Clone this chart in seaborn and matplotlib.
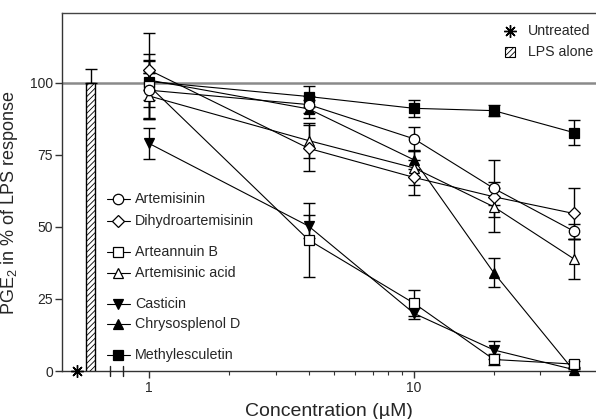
import numpy as np
import pandas as pd
import seaborn as sns
import matplotlib.pyplot as plt
from matplotlib.patches import Rectangle
from matplotlib.lines import Line2D
from matplotlib.ticker import FixedLocator, NullFormatter, FixedFormatter

# Concentrations (uM)
conc = [1, 4, 10, 20, 40]

compounds = ['Artemisinin', 'Dihydroartemisinin', 'Arteannuin B', 'Artemisinic acid',
             'Casticin', 'Chrysosplenol D', 'Methylesculetin']

# mean PGE2 (% of LPS response)
artemisinin = [97.5, 92.5, 80.6, 63.4, 48.6]
dihydroartemisinin = [104.5, 77.3, 67.2, 60.5, 54.7]
arteannuin_b = [99.0, 45.5, 23.5, 4.0, 2.4]
artemisinic_acid = [95.5, 80.0, 70.5, 57.0, 39.0]
casticin = [79.0, 50.3, 20.0, 7.3, 0.5]
chrysosplenol_d = [101.0, 91.0, 73.3, 34.1, 0.2]
methylesculetin = [100.5, 95.3, 91.2, 90.4, 82.8]

# error (SD)
artemisinin_sd = [10, 3, 4, 10, 2.6]
dihydroartemisinin_sd = [13, 8, 6, 3, 8.7]
arteannuin_b_sd = [11, 13, 4.5, 2, 1]
artemisinic_acid_sd = [8, 6, 6, 8.6, 7]
casticin_sd = [5.5, 4, 1.8, 3, 0.5]
chrysosplenol_d_sd = [7, 3, 3, 5, 0.5]
methylesculetin_sd = [3, 3.5, 3, 2, 4.3]

means = [artemisinin, dihydroartemisinin, arteannuin_b, artemisinic_acid,
         casticin, chrysosplenol_d, methylesculetin]
sds = [artemisinin_sd, dihydroartemisinin_sd, arteannuin_b_sd, artemisinic_acid_sd,
       casticin_sd, chrysosplenol_d_sd, methylesculetin_sd]

# controls
lps_alone = 100
lps_alone_sd = 5
untreated = 0

rows = []
for name, m, s in zip(compounds, means, sds):
    for c, v, e in zip(conc, m, s):
        rows.append({'compound': name, 'conc': c, 'pge2': v, 'sd': e})
df = pd.DataFrame(rows)

styles = {
    'Artemisinin': ('o', 'white', 7.5),
    'Dihydroartemisinin': ('D', 'white', 6.0),
    'Arteannuin B': ('s', 'white', 7.5),
    'Artemisinic acid': ('^', 'white', 7.5),
    'Casticin': ('v', 'black', 7.5),
    'Chrysosplenol D': ('^', 'black', 7.5),
    'Methylesculetin': ('s', 'black', 7.5),
}

sns.set_style('ticks')
plt.rcParams['font.family'] = ['Liberation Sans', 'DejaVu Sans']
plt.rcParams['mathtext.default'] = 'regular'
plt.rcParams['hatch.linewidth'] = 0.6

fig = plt.figure(figsize=(5.96, 4.19), dpi=100)
ax = fig.add_axes([62 / 596, 48 / 419, 534 / 596, 358 / 419])

ax.set_xscale('log')
ax.set_xlim(0.469, 48.6)
ax.set_ylim(0, 124.3)

# reference line at 100 %
ax.axhline(100, color='#8a8a8a', lw=1.8, zorder=1)

# controls: untreated (asterisk) and LPS alone (hatched bar)
ast = (8, 2, 0)
ax.plot([0.535], [untreated], marker=ast, ms=9, mew=1.0, color='black',
        clip_on=False, zorder=6, ls='none')
ax.bar([0.578], [lps_alone], width=0.047, align='edge', color='white',
       edgecolor='black', hatch='//////', lw=1.0, zorder=3)
ax.errorbar([0.601], [lps_alone], yerr=[[0], [lps_alone_sd]], fmt='none',
            ecolor='black', elinewidth=1.0, capsize=4.5, capthick=1.0, zorder=3)

# compound series (drawn last-to-first so the first compounds sit on top)
order = compounds[::-1]
for name in order:
    sub = df[df['compound'] == name]
    ax.errorbar(sub['conc'], sub['pge2'], yerr=sub['sd'], fmt='none',
                ecolor='black', elinewidth=1.0, capsize=4.5, capthick=1.0, zorder=3)
for name in order:
    sub = df[df['compound'] == name]
    mk, fc, ms = styles[name]
    sns.lineplot(data=sub, x='conc', y='pge2', ax=ax, color='black', lw=0.8,
                 marker=mk, ms=ms, mfc=fc, mec='black', mew=0.9,
                 clip_on=False, zorder=4, legend=False)

# axis styling
ax.spines['right'].set_visible(False)
ax.spines['top'].set_color('#444444')
ax.spines['top'].set_linewidth(1.0)
ax.spines['left'].set_color('#333333')
ax.spines['left'].set_linewidth(1.0)
ax.spines['bottom'].set_color('#333333')
ax.spines['bottom'].set_linewidth(1.0)
ax.spines['bottom'].set_linestyle((0, (1, 1)))

ax.set_yticks([0, 25, 50, 75, 100])
ax.xaxis.set_major_locator(FixedLocator([1, 10]))
ax.xaxis.set_major_formatter(FixedFormatter(['1', '10']))
minor = [2, 3, 4, 5, 6, 7, 8, 9, 20, 30, 40]
ax.xaxis.set_minor_locator(FixedLocator(minor))
ax.xaxis.set_minor_formatter(NullFormatter())
ax.tick_params(axis='both', which='major', labelsize=10, length=5, width=1.0,
               color='#333333', direction='out')
ax.tick_params(axis='y', which='major', pad=1.5)
ax.tick_params(axis='x', which='major', pad=2.5)
ax.tick_params(axis='x', which='minor', length=3, width=0.8, color='#333333')

# axis break marks
for xb in [0.71, 0.80]:
    ax.plot([xb, xb], [-1.6, 1.6], color='#222222', lw=1.0, clip_on=False, zorder=5)

ax.set_xlabel('Concentration (\u00b5M)', fontsize=14)
ax.set_ylabel('PGE$_2$ in % of LPS response', fontsize=13)
ax.xaxis.set_label_coords(0.5, -0.088)
ax.yaxis.set_label_coords(-0.079, 0.47)

# compound key
key_y = [0.480, 0.419, 0.332, 0.274, 0.187, 0.131, 0.045]
for name, ky in zip(compounds, key_y):
    mk, fc, ms = styles[name]
    ax.add_line(Line2D([0.084, 0.127], [ky, ky], color='black', lw=0.8,
                       transform=ax.transAxes, zorder=5))
    ax.add_line(Line2D([0.105], [ky], marker=mk, ms=ms, mfc=fc, mec='black',
                       mew=0.9, ls='none', transform=ax.transAxes, zorder=6))
    ax.text(0.137, ky, name, transform=ax.transAxes, fontsize=10.3,
            va='center', ha='left')

# controls key
ax.add_line(Line2D([0.839], [0.950], marker=ast, ms=9, mew=1.0, color='black',
                   ls='none', transform=ax.transAxes))
ax.text(0.873, 0.950, 'Untreated', transform=ax.transAxes, fontsize=10.2,
        va='center', ha='left')
ax.add_patch(Rectangle((0.830, 0.877), 0.0187, 0.028, transform=ax.transAxes,
                       facecolor='white', edgecolor='black', hatch='//////', lw=0.8))
ax.text(0.873, 0.891, 'LPS alone', transform=ax.transAxes, fontsize=10.2,
        va='center', ha='left')

fig.savefig('out.png', dpi=100, facecolor='white')
plt.close(fig)
